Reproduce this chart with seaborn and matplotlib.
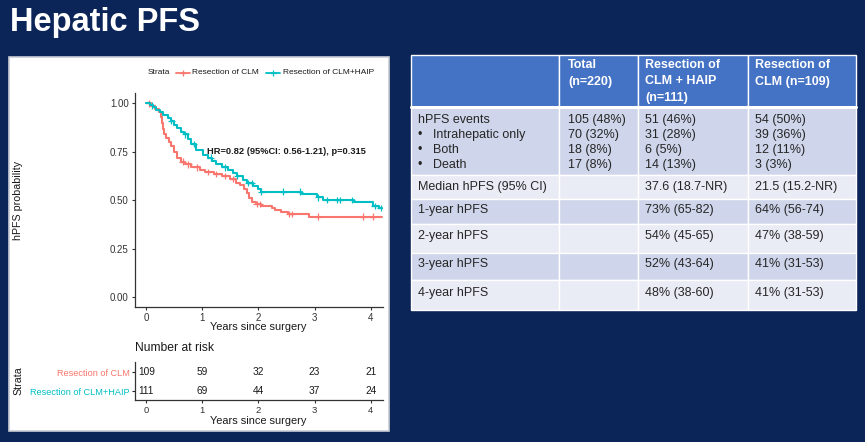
import numpy as np
import pandas as pd
import matplotlib
matplotlib.use("Agg")
import matplotlib.pyplot as plt
import seaborn as sns
from matplotlib.patches import Rectangle
from matplotlib.lines import Line2D

sns.set_style("ticks")
plt.rcParams['font.family'] = ['Liberation Sans', 'DejaVu Sans']

# ---------------- data ----------------
groups = ["Resection of CLM", "Resection of CLM+HAIP"]
colors = ["#F8766D", "#00BFC4"]

clm_time = [0, 0.09, 0.16, 0.22, 0.26, 0.28, 0.30, 0.32, 0.35, 0.40,
            0.45, 0.50, 0.55, 0.62, 0.70, 0.80, 0.95, 1.05, 1.20, 1.35,
            1.50, 1.60, 1.68, 1.75, 1.80, 1.84, 1.88, 1.95, 2.05, 2.25,
            2.30, 2.40, 2.52, 2.90, 4.20]
clm_surv = [1.0, 0.985, 0.97, 0.955, 0.93, 0.90, 0.87, 0.84, 0.82, 0.80,
            0.78, 0.75, 0.72, 0.70, 0.685, 0.67, 0.655, 0.645, 0.635, 0.625,
            0.61, 0.59, 0.58, 0.56, 0.535, 0.51, 0.49, 0.48, 0.47, 0.46,
            0.45, 0.44, 0.43, 0.415, 0.415]
haip_time = [0, 0.06, 0.12, 0.18, 0.25, 0.30, 0.38, 0.45, 0.50, 0.55,
             0.62, 0.68, 0.75, 0.80, 0.88, 1.02, 1.10, 1.18, 1.25, 1.35,
             1.45, 1.55, 1.62, 1.72, 1.80, 1.90, 2.00, 2.05, 2.78, 3.05,
             3.15, 3.70, 4.05, 4.15, 4.20]
haip_surv = [1.0, 0.99, 0.98, 0.965, 0.955, 0.94, 0.925, 0.91, 0.89, 0.875,
             0.855, 0.84, 0.815, 0.79, 0.76, 0.735, 0.72, 0.705, 0.685, 0.67,
             0.655, 0.64, 0.625, 0.605, 0.59, 0.575, 0.56, 0.545, 0.53, 0.515,
             0.50, 0.49, 0.47, 0.46, 0.46]
clm_censor = [0.05, 0.65, 0.75, 0.9, 1.1, 1.25, 1.4, 1.55, 1.97, 2.03,
              2.55, 2.6, 3.06, 3.86, 4.04]
haip_censor = [0.1, 0.45, 0.7, 0.85, 1.15, 1.4, 1.62, 1.82, 1.88, 2.05,
               2.44, 2.74, 3.06, 3.22, 3.4, 3.45, 3.67, 4.07, 4.18]

risk_times = [0, 1, 2, 3, 4]
risk_clm = [109, 59, 32, 23, 21]
risk_haip = [111, 69, 44, 37, 24]

hr_text = "HR=0.82 (95%CI: 0.56-1.21), p=0.315"
title = "Hepatic PFS"

table_header = [[""], ["Total", "(n=220)"], ["Resection of", "CLM + HAIP", "(n=111)"],
                ["Resection of", "CLM (n=109)"]]
events_labels = ["hPFS events", "Intrahepatic only", "Both", "Death"]
events_total = ["105 (48%)", "70 (32%)", "18 (8%)", "17 (8%)"]
events_haip = ["51 (46%)", "31 (28%)", "6 (5%)", "14 (13%)"]
events_clm = ["54 (50%)", "39 (36%)", "12 (11%)", "3 (3%)"]
row_labels = ["Median hPFS (95% CI)", "1-year hPFS", "2-year hPFS", "3-year hPFS", "4-year hPFS"]
row_haip = ["37.6 (18.7-NR)", "73% (65-82)", "54% (45-65)", "52% (43-64)", "48% (38-60)"]
row_clm = ["21.5 (15.2-NR)", "64% (56-74)", "47% (38-59)", "41% (31-53)", "41% (31-53)"]

# ---------------- figure ----------------
W, H = 865, 442
navy = "#0b2558"
fig = plt.figure(figsize=(W / 100, H / 100), dpi=100, facecolor=navy)


def fx(px):
    return px / W


def fy(py):
    return 1 - py / H


fig.text(fx(10), fy(30.5), title, color="white", fontsize=23.5, fontweight="bold",
         va="baseline", ha="left")

# white panel
fig.patches.append(Rectangle((fx(9), fy(431)), fx(389) - fx(9), fy(57) - fy(431),
                             transform=fig.transFigure, facecolor="white",
                             edgecolor="#c9ccd4", lw=1.2, zorder=-5))

# ---------------- KM plot ----------------
ax = fig.add_axes([fx(135), fy(306.7), fx(383) - fx(135), fy(93) - fy(306.7)])
ax.set_facecolor("white")

df = pd.concat([
    pd.DataFrame({"time": clm_time, "surv": clm_surv, "group": groups[0]}),
    pd.DataFrame({"time": haip_time, "surv": haip_surv, "group": groups[1]}),
])
sns.lineplot(data=df, x="time", y="surv", hue="group", hue_order=groups,
             palette=colors, drawstyle="steps-post", estimator=None,
             legend=False, lw=1.5, ax=ax)


def step_val(times, survs, c):
    i = np.searchsorted(np.asarray(times), c, side="right") - 1
    return np.asarray(survs)[i]


cdf = pd.concat([
    pd.DataFrame({"time": clm_censor,
                  "surv": step_val(clm_time, clm_surv, clm_censor), "group": groups[0]}),
    pd.DataFrame({"time": haip_censor,
                  "surv": step_val(haip_time, haip_surv, haip_censor), "group": groups[1]}),
])
sns.scatterplot(data=cdf, x="time", y="surv", hue="group", hue_order=groups,
                palette=colors, marker="+", s=22, linewidth=0.9, legend=False, ax=ax)

ax.set_xlim(-0.2, 4.22)
ax.set_ylim(-0.05, 1.054)
ax.set_xticks(risk_times)
ax.set_yticks([0, 0.25, 0.5, 0.75, 1.0])
ax.set_yticklabels(["0.00", "0.25", "0.50", "0.75", "1.00"])
ax.set_xlabel("")
ax.set_ylabel("")
for s in ["top", "right"]:
    ax.spines[s].set_visible(False)
for s in ["left", "bottom"]:
    ax.spines[s].set_color("#333333")
    ax.spines[s].set_linewidth(0.9)
ax.tick_params(labelsize=7, colors="#333333", length=2.5, width=0.8, pad=2)
ax.text(1.085, 0.75, hr_text, fontsize=6.7, fontweight="bold", va="center",
        ha="left", color="#1a1a1a")

fig.text(fx(18), fy(200), "hPFS probability", rotation=90, fontsize=7.7,
         va="center", ha="center", color="#1a1a1a")
fig.text(fx(258), fy(327), "Years since surgery", fontsize=7.9,
         va="center", ha="center", color="#1a1a1a")

# legend
fig.text(fx(148), fy(73), "Strata", fontsize=6, va="center", ha="left", color="#1a1a1a")
leg_items = [(176, 192, groups[0], colors[0]), (266, 283, groups[1], colors[1])]
for x0, xt, lab, col in leg_items:
    fig.add_artist(Line2D([fx(x0), fx(x0 + 14)], [fy(73), fy(73)], color=col, lw=1.3,
                          transform=fig.transFigure))
    fig.add_artist(Line2D([fx(x0 + 7)], [fy(73)], color=col, marker="+", ms=4,
                          mew=0.9, transform=fig.transFigure))
    fig.text(fx(xt), fy(73), lab, fontsize=6, va="center", ha="left", color="#1a1a1a")

# ---------------- risk table ----------------
rax = fig.add_axes([fx(135), fy(400), fx(383) - fx(135), fy(362) - fy(400)])
rax.set_facecolor("white")
rax.set_xlim(-0.2, 4.22)
rax.set_ylim(-0.47, 1.53)
for t, n in zip(risk_times, risk_clm):
    rax.text(t, 1, str(n), ha="center", va="center", fontsize=7.3, color="#1a1a1a")
for t, n in zip(risk_times, risk_haip):
    rax.text(t, 0, str(n), ha="center", va="center", fontsize=7.3, color="#1a1a1a")
rax.set_xticks(risk_times)
rax.set_yticks([1, 0])
rax.set_yticklabels(groups)
for s in ["top", "right"]:
    rax.spines[s].set_visible(False)
for s in ["left", "bottom"]:
    rax.spines[s].set_color("#333333")
    rax.spines[s].set_linewidth(0.9)
rax.tick_params(axis="y", labelsize=6.6, length=2.5, width=0.8, pad=1.5)
rax.tick_params(axis="x", labelsize=6.8, colors="#333333", length=2.5, width=0.8, pad=2)
for lbl, col in zip(rax.get_yticklabels(), colors):
    lbl.set_color(col)

fig.text(fx(135), fy(348), "Number at risk", fontsize=8.7, va="center", ha="left",
         color="#1a1a1a")
fig.text(fx(18), fy(381), "Strata", rotation=90, fontsize=7.7, va="center",
         ha="center", color="#1a1a1a")
fig.text(fx(258), fy(421), "Years since surgery", fontsize=7.9, va="center",
         ha="center", color="#1a1a1a")

# ---------------- data table ----------------
col_edges = [411, 559, 638, 748, 856]
row_edges = [55, 107, 175, 199, 224, 253, 280, 310]
row_fill = ["#4472C4", "#CFD5EA", "#E9EBF5", "#CFD5EA", "#E9EBF5", "#CFD5EA", "#E9EBF5"]
for r in range(len(row_edges) - 1):
    for c in range(len(col_edges) - 1):
        fig.patches.append(Rectangle(
            (fx(col_edges[c]), fy(row_edges[r + 1])),
            fx(col_edges[c + 1]) - fx(col_edges[c]),
            fy(row_edges[r]) - fy(row_edges[r + 1]),
            transform=fig.transFigure, facecolor=row_fill[r], edgecolor="white",
            lw=1.0, zorder=1))
# thicker white line below header
fig.add_artist(Line2D([fx(411), fx(856)], [fy(107), fy(107)], color="white", lw=2.2,
                      transform=fig.transFigure))

text_x = [418, 568, 645, 755]
fs = 9
txt_col = "#262626"
for c, lines in enumerate(table_header):
    for i, line in enumerate(lines):
        fig.text(fx(text_x[c]), fy(65 + 16.5 * i), line, fontsize=fs, fontweight="bold",
                 color="white", va="center", ha="left")

ev_y = [120, 135, 150, 165]
for i in range(4):
    if i == 0:
        fig.text(fx(418), fy(ev_y[i]), events_labels[i], fontsize=fs, color=txt_col,
                 va="center", ha="left")
    else:
        fig.text(fx(418), fy(ev_y[i]), "\u2022", fontsize=fs, color=txt_col,
                 va="center", ha="left")
        fig.text(fx(433), fy(ev_y[i]), events_labels[i], fontsize=fs, color=txt_col,
                 va="center", ha="left")
    fig.text(fx(568), fy(ev_y[i]), events_total[i], fontsize=fs, color=txt_col,
             va="center", ha="left")
    fig.text(fx(645), fy(ev_y[i]), events_haip[i], fontsize=fs, color=txt_col,
             va="center", ha="left")
    fig.text(fx(755), fy(ev_y[i]), events_clm[i], fontsize=fs, color=txt_col,
             va="center", ha="left")

row_y = [187, 210, 236, 264, 293]
for i in range(len(row_labels)):
    fig.text(fx(418), fy(row_y[i]), row_labels[i], fontsize=fs, color=txt_col,
             va="center", ha="left")
    fig.text(fx(645), fy(row_y[i]), row_haip[i], fontsize=fs, color=txt_col,
             va="center", ha="left")
    fig.text(fx(755), fy(row_y[i]), row_clm[i], fontsize=fs, color=txt_col,
             va="center", ha="left")

fig.savefig("out.png", dpi=100, facecolor=navy)
